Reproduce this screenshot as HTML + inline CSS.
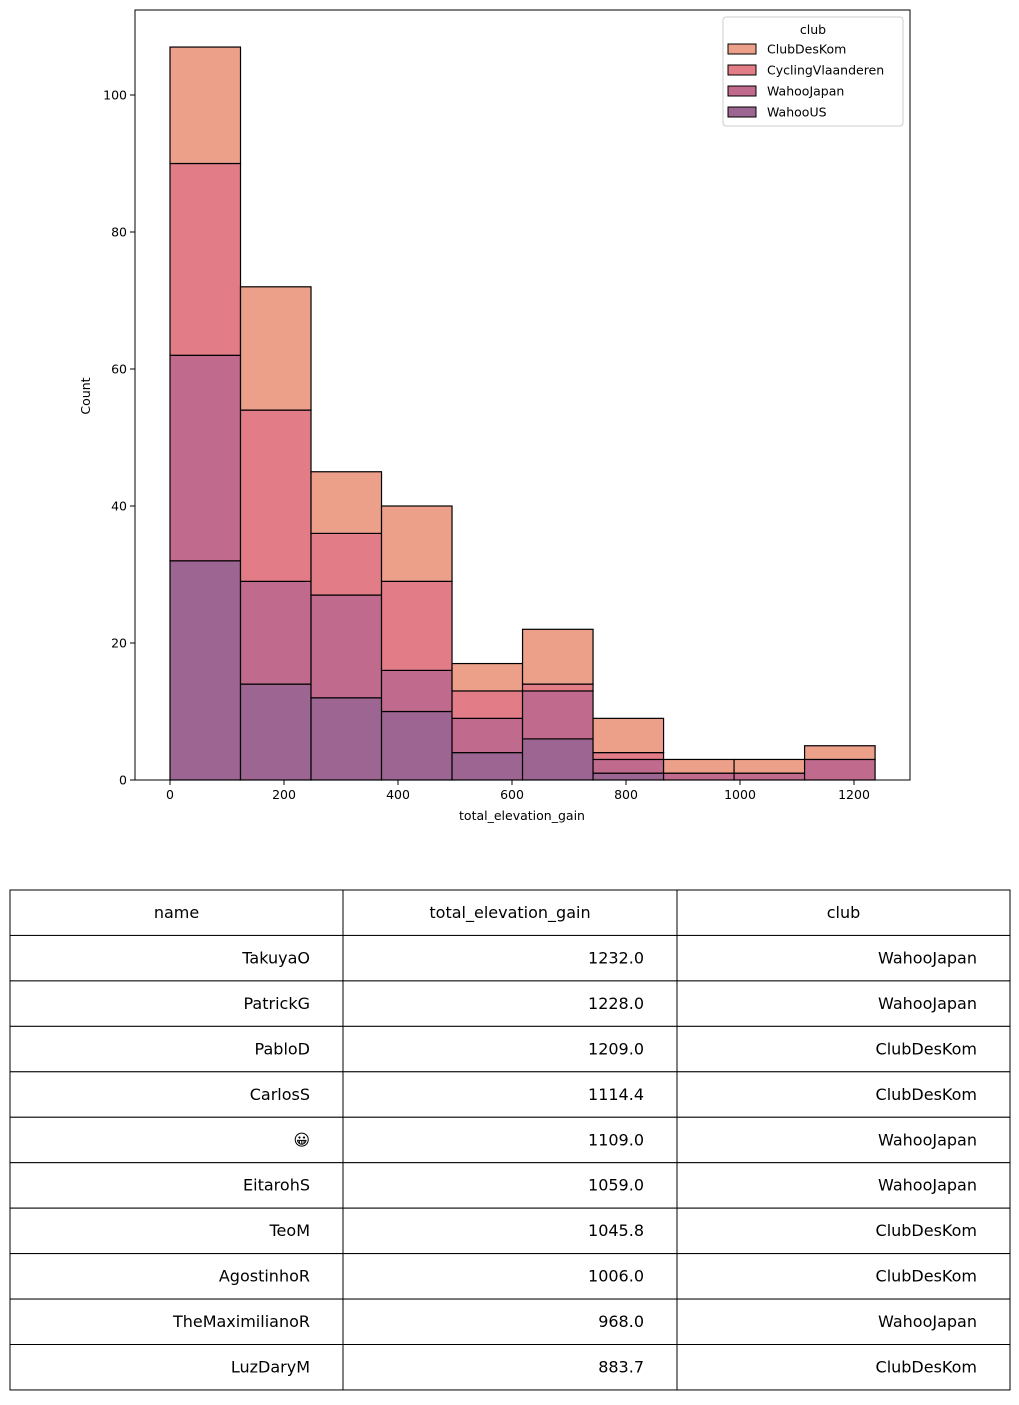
<!DOCTYPE html>
<html><head><meta charset="utf-8"><style>
body{margin:0;background:#fff;font-family:"Liberation Sans","DejaVu Sans","Noto Sans CJK JP",sans-serif}
svg text{font-family:"DejaVu Sans","Liberation Sans","Noto Sans CJK JP",sans-serif}
</style></head><body>
<svg id="c" width="1019" height="1400" xmlns="http://www.w3.org/2000/svg">
<g id="chart"></g>
<g id="table"></g>
</svg>
<script>
const clubs=["ClubDesKom","CyclingVlaanderen","WahooJapan","WahooUS"];
const colors=["#eca08a","#e27c87","#c06b8e","#9d6591"];
const binEdges=[0,123.7,247.4,371.1,494.8,618.5,742.2,865.9,989.6,1113.3,1237];
const wahooUS=[32,14,12,10,4,6,1,0,0,0];
const wahooJapan=[30,15,15,6,5,7,2,1,1,3];
const cycling=[28,25,9,13,4,1,1,0,0,0];
const clubDesKom=[17,18,9,11,4,8,5,2,2,2];
const xTicks=[0,200,400,600,800,1000,1200];
const yTicks=[0,20,40,60,80,100];
const tableHeader=["name","total_elevation_gain","club"];
const names=["TakuyaO","PatrickG","PabloD","CarlosS","\u{1F600}","EitarohS","TeoM","AgostinhoR","TheMaximilianoR","LuzDaryM"];
const gains=["1232.0","1228.0","1209.0","1114.4","1109.0","1059.0","1045.8","1006.0","968.0","883.7"];
const rowClubs=["WahooJapan","WahooJapan","ClubDesKom","ClubDesKom","WahooJapan","WahooJapan","ClubDesKom","ClubDesKom","WahooJapan","ClubDesKom"];

const NS="http://www.w3.org/2000/svg";
function mk(tag,attrs,parent,txt){const e=document.createElementNS(NS,tag);for(const k in attrs)e.setAttribute(k,attrs[k]);if(txt!==undefined)e.textContent=txt;parent.appendChild(e);return e;}
const PL=135,PR=910,PT=10,PB=780;
const xs=v=>170+v*(854-170)/1200;
const ys=v=>780-v*(780-95)/100;
const g=document.getElementById('chart');
const layers=[[wahooUS,3],[wahooJapan,2],[cycling,1],[clubDesKom,0]];
for(let i=0;i<binEdges.length-1;i++){
  let base=0;
  for(const [arr,ci] of layers){
    const v=arr[i];
    if(v>0){
      const r=mk('rect',{x:xs(binEdges[i]),y:ys(base+v),width:xs(binEdges[i+1])-xs(binEdges[i]),height:ys(base)-ys(base+v),fill:colors[ci],stroke:'#000','stroke-width':1.2},g);
      
      
    }
    base+=v;
  }
}
const fr=mk('rect',{x:PL,y:PT,width:PR-PL,height:PB-PT,fill:'none',stroke:'#000','stroke-width':1},g);


for(const t of xTicks){
  mk('line',{x1:xs(t),x2:xs(t),y1:PB,y2:PB+5,stroke:'#000'},g);
  const tx=mk('text',{x:xs(t),y:PB+19,'font-size':12.5,'text-anchor':'middle'},g,t);
  
  
}
for(const t of yTicks){
  mk('line',{x1:PL-5,x2:PL,y1:ys(t),y2:ys(t),stroke:'#000'},g);
  const tx=mk('text',{x:PL-8,y:ys(t)+4.5,'font-size':12.5,'text-anchor':'end'},g,t);
  
  
}
const xt=mk('text',{x:522,y:820,'font-size':12.5,'text-anchor':'middle'},g,'total_elevation_gain');


const yt=mk('text',{x:90,y:396,'font-size':12.5,'text-anchor':'middle',transform:'rotate(-90 90 396)'},g,'Count');


const lg=mk('g',{},g);


mk('rect',{x:723,y:17,width:180,height:109,rx:3,fill:'#fff','fill-opacity':0.8,stroke:'#ccc'},lg);
mk('text',{x:813,y:34,'font-size':12.5,'text-anchor':'middle'},lg,'club');
clubs.forEach((c,i)=>{
  const y=49+i*21;
  const e=mk('g',{},lg);
  
  
  mk('rect',{x:728,y:y-5,width:28,height:10,fill:colors[i],stroke:'#000'},e);
  mk('text',{x:767,y:y+4.5,'font-size':12.5},e,c);
});
const tg=document.getElementById('table');
const cols=[10,343,677,1010],tableTop=890,rh=45.45;
for(let r=0;r<11;r++){
  for(let c=0;c<3;c++){
    const cell=mk('g',{},tg);
    
    
    const y=tableTop+r*rh;
    mk('rect',{x:cols[c],y:y,width:cols[c+1]-cols[c],height:rh,fill:'#fff',stroke:'#000','stroke-width':1},cell);
    let txt;
    if(r===0)txt=tableHeader[c];else txt=[names,gains,rowClubs][c][r-1];
    if(r===0)mk('text',{x:(cols[c]+cols[c+1])/2,y:y+28,'font-size':16,'text-anchor':'middle'},cell,txt);
    else mk('text',{x:cols[c+1]-33,y:y+28,'font-size':16,'text-anchor':'end'},cell,txt);
  }
}
</script>
</body></html>
